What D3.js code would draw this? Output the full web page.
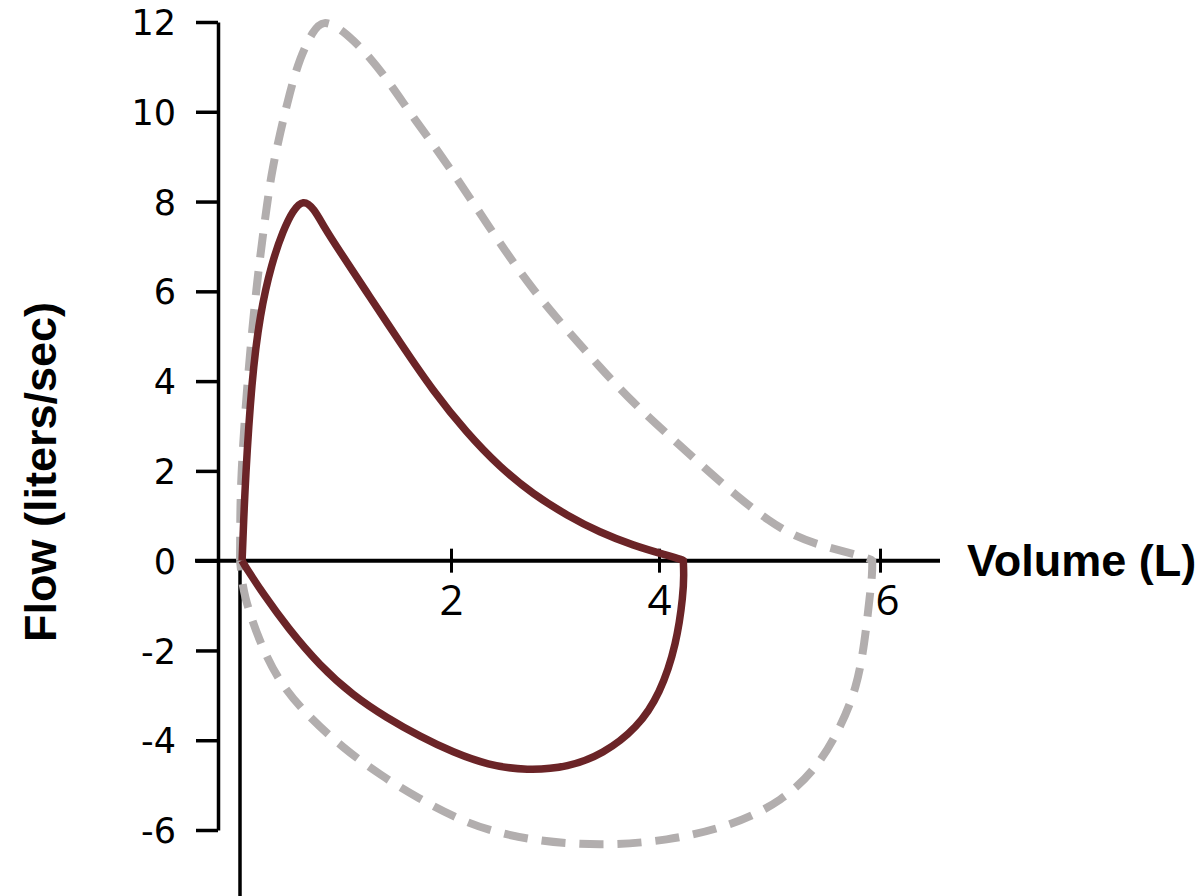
<!DOCTYPE html>
<meta charset="utf-8">
<style>
body { margin: 0; background: #fff; }
.ylab text { font: 35px "DejaVu Sans", Verdana, sans-serif; fill: #000; }
.xlab text { font: 42px "Open Sans", sans-serif; fill: #000; }
.title { font: bold 45px "Liberation Sans", Arial, sans-serif; fill: #000; }
</style>
<svg width="1200" height="896"></svg>
<script src="https://cdn.jsdelivr.net/npm/d3@7"></script>
<script>

// volume (L) and flow (L/s)
var flowTicks = [-6, -4, -2, 0, 2, 4, 6, 8, 10, 12];
var volTicks = [2, 4, 6];

// patient loop, expiration (top) then inspiration (bottom, back to zero)
var patientOutVol  = [0.02, 0.03, 0.05, 0.11, 0.19, 0.30, 0.41, 0.50, 0.60, 0.70, 0.80, 0.92, 1.23, 1.52, 1.83, 2.15, 2.47, 2.79, 3.12, 3.43, 3.75, 4.07, 4.21, 4.22];
var patientOutFlow = [0, 0.6, 1.78, 4.02, 5.51, 6.63, 7.36, 7.8, 8.05, 7.85, 7.42, 6.98, 5.88, 4.85, 3.78, 2.85, 2.08, 1.48, 1.0, 0.63, 0.34, 0.12, 0.02, 0];
var patientInVol   = [4.22, 4.225, 4.22, 4.16, 4.01, 3.79, 3.46, 3.13, 2.73, 2.35, 2.02, 1.71, 1.39, 1.07, 0.76, 0.45, 0.22, 0.07, 0.03, 0.02];
var patientInFlow  = [0, -0.3, -0.74, -1.85, -2.97, -3.73, -4.31, -4.6, -4.68, -4.55, -4.27, -3.92, -3.5, -3.0, -2.35, -1.49, -0.74, -0.2, -0.05, 0];

// predicted normal loop (dashed)
var normalOutVol  = [0, 0.002, 0.005, 0.07, 0.16, 0.265, 0.31, 0.38, 0.47, 0.57, 0.69, 0.79, 0.95, 1.07, 1.23, 1.42, 1.64, 1.87, 2.12, 2.47, 2.79, 3.12, 3.43, 3.75, 4.07, 4.37, 4.73, 5.0, 5.2, 5.43, 5.73, 5.92, 5.93];
var normalOutFlow = [0, 0.6, 1.78, 4.02, 6.25, 8.10, 8.77, 9.52, 10.42, 11.22, 11.8, 12.05, 11.85, 11.6, 11.22, 10.64, 9.88, 9.15, 8.30, 7.07, 6.02, 5.13, 4.31, 3.52, 2.83, 2.16, 1.38, 0.88, 0.58, 0.36, 0.17, 0.03, 0];
var normalInVol   = [5.93, 5.93, 5.91, 5.86, 5.79, 5.64, 5.43, 5.12, 4.67, 4.07, 3.43, 2.82, 2.34, 2.02, 1.71, 1.33, 0.98, 0.64, 0.38, 0.19, 0.03, 0.01, 0];
var normalInFlow  = [0, -0.3, -0.74, -1.85, -2.83, -3.73, -4.62, -5.35, -5.9, -6.25, -6.35, -6.25, -6.0, -5.7, -5.32, -4.78, -4.18, -3.45, -2.74, -1.85, -0.74, -0.2, 0];

var svg = d3.select("svg");

var x = d3.scaleLinear().domain([0, 2, 4, 6]).range([240, 451, 659, 880]);
var y = d3.scaleLinear().domain([-6, 12]).range([830, 22]);

var label = function(d) { return String(d); };

// y axis
var yAxis = svg.append("g")
    .attr("class", "ylab")
    .attr("transform", "translate(218,0)")
    .call(d3.axisLeft(y).tickValues(flowTicks).tickFormat(label)
      .tickSizeInner(22).tickSizeOuter(0).tickPadding(20));
yAxis.selectAll("line, path").attr("stroke", "#000").attr("stroke-width", 3.5);
yAxis.selectAll("text").attr("dy", "0.36em");

// x axis, ticks crossing the line
var xAxis = svg.append("g")
    .attr("class", "xlab")
    .attr("transform", "translate(0," + y(0) + ")")
    .call(d3.axisBottom(x).tickValues(volTicks).tickFormat(label)
      .tickSizeInner(12).tickSizeOuter(0).tickPadding(13));
xAxis.select(".domain").remove();
xAxis.selectAll(".tick line").attr("y1", -12).attr("stroke", "#000").attr("stroke-width", 3);
xAxis.selectAll(".tick text").attr("dx", function(d) { return d === 6 ? 7 : 0; });
xAxis.append("line")
    .attr("x1", 195).attr("x2", 940)
    .attr("stroke", "#000").attr("stroke-width", 4);

// zero volume line below the axis
svg.append("line")
    .attr("x1", x(0)).attr("x2", x(0))
    .attr("y1", y(0)).attr("y2", 896)
    .attr("stroke", "#000").attr("stroke-width", 3.5);

var line = d3.line()
    .x(function(d) { return x(d[0]); })
    .y(function(d) { return y(d[1]); })
    .curve(d3.curveBasis);

function loopPath(ov, of, iv, ifl) {
  var out = ov.map(function(v, i) { return [v, of[i]]; });
  var inn = iv.map(function(v, i) { return [v, ifl[i]]; });
  return line(out) + line(inn).replace(/^M/, "L");
}

svg.append("path")
    .attr("d", loopPath(normalOutVol, normalOutFlow, normalInVol, normalInFlow))
    .attr("fill", "none")
    .attr("stroke", "#b2aeae")
    .attr("stroke-width", 8)
    .attr("stroke-dasharray", "24,14");

svg.append("path")
    .attr("d", loopPath(patientOutVol, patientOutFlow, patientInVol, patientInFlow))
    .attr("fill", "none")
    .attr("stroke", "#6b2427")
    .attr("stroke-width", 7.5)
    .attr("stroke-linejoin", "miter");

svg.append("text")
    .attr("class", "title")
    .attr("transform", "translate(56,472) rotate(-90)")
    .attr("text-anchor", "middle")
    .text("Flow (liters/sec)");

svg.append("text")
    .attr("class", "title")
    .attr("x", 967)
    .attr("y", 576)
    .text("Volume (L)");

</script>
